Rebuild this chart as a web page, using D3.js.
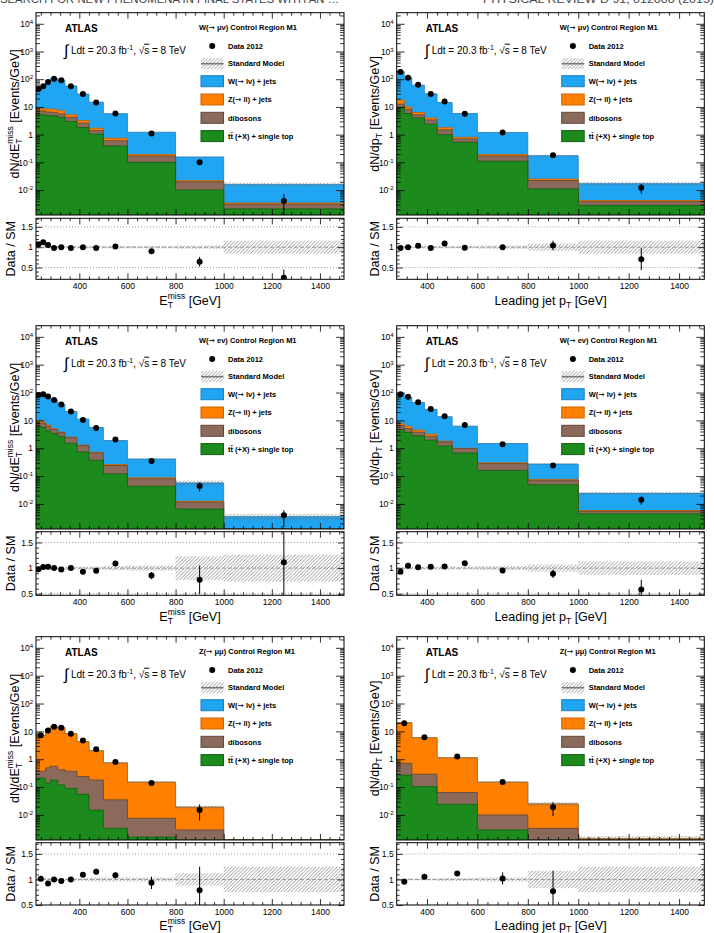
<!DOCTYPE html>
<html>
<head>
<meta charset="utf-8">
<script src="https://cdn.jsdelivr.net/npm/d3@7"></script>
<style>
  body { margin: 0; background: #fff; }
  svg text { font-family: "Liberation Sans", Arial, Helvetica, sans-serif; }
</style>
</head>
<body>
<svg id="fig" width="714" height="933"></svg>
<script>
// ---- data ----
// W(-> mu nu) control region, ETmiss
const wmuMetEdges = [220, 240, 260, 280, 310, 340, 390, 440, 500, 600, 800, 1000, 1500];
const wmuMetData = [44, 56, 80, 103, 92, 56, 29, 14.5, 5.8, 1.1, 0.1, 0.004];
const wmuMetW = [32.6, 41.4, 67.6, 96.7, 84.7, 51.8, 25.8, 13.1, 4.96, 1.03, 0.134, 0.0126];
const wmuMetZ = [1.4, 1.4, 1.8, 1.9, 1.7, 1.0, 0.6, 0.3, 0.14, 0.02, 0.002, 0.0003];
const wmuMetDib = [1.5, 2.0, 1.8, 1.6, 1.4, 1.2, 0.8, 0.35, 0.21, 0.07, 0.01, 0.001];
const wmuMetTop = [5.5, 5.2, 4.8, 4.8, 4.2, 3.0, 1.8, 1.05, 0.39, 0.1, 0.01, 0.0021];
const wmuMetSyst = [0.03, 0.03, 0.03, 0.03, 0.03, 0.03, 0.03, 0.03, 0.03, 0.03, 0.04, 0.16];
const wmuMetErrUp = [0.02, 0.02, 0.02, 0.02, 0.02, 0.02, 0.02, 0.03, 0.04, 0.05, 0.12, 0.2];
const wmuMetErrDn = [0.02, 0.02, 0.02, 0.02, 0.02, 0.02, 0.02, 0.03, 0.04, 0.05, 0.12, 0.27];

// W(-> mu nu) control region, leading jet pT
const wmuPtEdges = [280, 310, 340, 390, 440, 500, 600, 800, 1000, 1500];
const wmuPtData = [183, 114, 63, 29, 15.7, 5.7, 1.2, 0.18, 0.012];
const wmuPtW = [169.4, 104, 54.7, 25.6, 12.6, 5.0, 1.01, 0.148, 0.0128];
const wmuPtZ = [5.0, 1.7, 1.1, 0.6, 0.3, 0.1, 0.02, 0.003, 0.0004];
const wmuPtDib = [3.0, 2.5, 1.2, 1.0, 0.5, 0.17, 0.06, 0.011, 0.001];
const wmuPtTop = [9.6, 5.8, 4.0, 2.4, 1.0, 0.53, 0.11, 0.011, 0.0028];
const wmuPtSyst = [0.03, 0.03, 0.03, 0.03, 0.03, 0.03, 0.04, 0.09, 0.16];
const wmuPtErrUp = [0.02, 0.02, 0.02, 0.03, 0.03, 0.04, 0.06, 0.12, 0.27];
const wmuPtErrDn = [0.02, 0.02, 0.02, 0.03, 0.03, 0.04, 0.06, 0.12, 0.27];

// W(-> e nu) control region, ETmiss
const welMetEdges = [220, 240, 260, 280, 310, 340, 390, 440, 500, 600, 800, 1000, 1500];
const welMetData = [82, 87, 72, 54, 37, 21, 10.3, 5.3, 2.06, 0.35, 0.044, 0.0039];
const welMetW = [74.3, 76.1, 63.2, 48.9, 34.2, 18.5, 9.8, 4.88, 1.63, 0.323, 0.0445, 0.0025];
const welMetZ = [1.5, 1.1, 0.6, 0.4, 0.2, 0.1, 0.05, 0.04, 0.02, 0.007, 0.001, 0.0002];
const welMetDib = [2.0, 2.2, 2.0, 1.3, 1.0, 0.9, 0.51, 0.31, 0.12, 0.037, 0.0049, 0.0003];
const welMetTop = [6.2, 5.6, 4.2, 3.4, 2.6, 1.5, 0.74, 0.37, 0.12, 0.043, 0.0066, 0.0005];
const welMetSyst = [0.03, 0.03, 0.03, 0.03, 0.03, 0.03, 0.03, 0.03, 0.04, 0.05, 0.23, 0.26];
const welMetErrUp = [0.02, 0.02, 0.02, 0.02, 0.02, 0.02, 0.03, 0.03, 0.05, 0.07, 0.28, 0.6];
const welMetErrDn = [0.02, 0.02, 0.02, 0.02, 0.02, 0.02, 0.03, 0.03, 0.05, 0.07, 0.28, 0.7];

// W(-> e nu) control region, leading jet pT
const welPtEdges = [280, 310, 340, 390, 440, 500, 600, 800, 1000, 1500];
const welPtData = [87, 70, 44.7, 25.6, 14, 6.8, 1.4, 0.24, 0.014];
const welPtW = [85.7, 60.8, 39.5, 21.7, 11.8, 5.2, 1.17, 0.194, 0.0182];
const welPtZ = [1.2, 1.1, 0.7, 0.5, 0.1, 0.03, 0.02, 0.006, 0.0004];
const welPtDib = [1.9, 1.4, 1.0, 0.75, 0.5, 0.29, 0.12, 0.021, 0.001];
const welPtTop = [4.7, 3.7, 2.8, 1.95, 1.2, 0.68, 0.16, 0.049, 0.0044];
const welPtSyst = [0.03, 0.03, 0.03, 0.03, 0.03, 0.03, 0.04, 0.07, 0.13];
const welPtErrUp = [0.02, 0.02, 0.02, 0.03, 0.03, 0.04, 0.05, 0.08, 0.19];
const welPtErrDn = [0.02, 0.02, 0.02, 0.03, 0.03, 0.04, 0.05, 0.08, 0.19];

// Z(-> mu mu) control region, ETmiss
const zmuMetEdges = [220, 260, 280, 310, 340, 390, 440, 500, 600, 800, 1000, 1500];
const zmuMetData = [7.2, 10.8, 14.8, 13.5, 8.2, 4.7, 2.3, 0.8, 0.14, 0.015, null];
const zmuMetW = [0, 0, 0, 0, 0, 0, 0, 0, 0, 0, 0];
const zmuMetZ = [6.73, 11.21, 14.24, 13.48, 7.83, 4.06, 1.82, 0.705, 0.1424, 0.0161, 0.0002];
const zmuMetDib = [0.16, 0.35, 0.38, 0.30, 0.28, 0.185, 0.165, 0.0317, 0.006, 0.0025, 0.0002];
const zmuMetTop = [0.21, 0.14, 0.18, 0.12, 0.09, 0.055, 0.015, 0.0033, 0.0016, 0.0004, 0.0001];
const zmuMetSyst = [0.04, 0.03, 0.03, 0.03, 0.03, 0.03, 0.04, 0.04, 0.04, 0.12, 0.25];
const zmuMetErrUp = [0.04, 0.03, 0.03, 0.03, 0.04, 0.04, 0.06, 0.06, 0.12, 0.46, 0];
const zmuMetErrDn = [0.04, 0.03, 0.03, 0.03, 0.04, 0.04, 0.06, 0.06, 0.12, 0.46, 0];

// Z(-> mu mu) control region, leading jet pT
const zmuPtEdges = [280, 340, 440, 600, 800, 1000, 1500];
const zmuPtData = [19.6, 6.2, 1.25, 0.153, 0.019, null];
const zmuPtW = [0, 0, 0, 0, 0, 0];
const zmuPtZ = [19.78, 5.61, 1.056, 0.14, 0.0214, 0.0005];
const zmuPtDib = [0.45, 0.186, 0.04, 0.0071, 0.0029, 0.0008];
const zmuPtTop = [0.27, 0.104, 0.024, 0.0029, 0.0004, 0.0001];
const zmuPtSyst = [0.02, 0.02, 0.03, 0.04, 0.17, 0.25];
const zmuPtErrUp = [0.02, 0.025, 0.04, 0.12, 0.4, 0];
const zmuPtErrDn = [0.02, 0.025, 0.04, 0.12, 0.4, 0];

const logMajors = [1e-2, 1e-1, 1, 10, 100, 1e3, 1e4];
const ratioMajors = [0.5, 1, 1.5];
const xMajors = [400, 600, 800, 1000, 1200, 1400];
const legendLabels = ["W(→ lν) + jets", "Z(→ ll) + jets", "dibosons", "tt\u0304 (+X) + single top"];

// ---- layout ----
const cols = [{ x0: 36, x1: 344 }, { x0: 396.7, x1: 704.3 }];
const rows = [
  { mainTop: 12.7, mainBot: 215, ratTop: 218.3, ratBot: 279.3, ratDom: [0.21, 1.71], titleOff: 26 },
  { mainTop: 325.7, mainBot: 529, ratTop: 531.7, ratBot: 595.3, ratDom: [0.47, 1.71], titleOff: 26 },
  { mainTop: 636.7, mainBot: 840, ratTop: 842.7, ratBot: 905, ratDom: [0.5, 1.72], titleOff: 24.5 }
];
const logDomain = [Math.pow(10, -2.9), Math.pow(10, 4.4)];
const xDomains = { met: [220, 1500], pt: [280, 1500] };
const colors = {
  w: { fill: "#1fa5f2", stroke: "#1b7fc0" },
  z: { fill: "#ff8000", stroke: "#c86400" },
  dib: { fill: "#8b6a5b", stroke: "#5f4639" },
  top: { fill: "#1d8a1d", stroke: "#136013" }
};

const panels = [
  { col: 0, row: 0, xvar: "met", region: "W(→ μν)", edges: wmuMetEdges, data: wmuMetData, w: wmuMetW, z: wmuMetZ, dib: wmuMetDib, top: wmuMetTop, syst: wmuMetSyst, errUp: wmuMetErrUp, errDn: wmuMetErrDn },
  { col: 1, row: 0, xvar: "pt", region: "W(→ μν)", edges: wmuPtEdges, data: wmuPtData, w: wmuPtW, z: wmuPtZ, dib: wmuPtDib, top: wmuPtTop, syst: wmuPtSyst, errUp: wmuPtErrUp, errDn: wmuPtErrDn },
  { col: 0, row: 1, xvar: "met", region: "W(→ eν)", edges: welMetEdges, data: welMetData, w: welMetW, z: welMetZ, dib: welMetDib, top: welMetTop, syst: welMetSyst, errUp: welMetErrUp, errDn: welMetErrDn },
  { col: 1, row: 1, xvar: "pt", region: "W(→ eν)", edges: welPtEdges, data: welPtData, w: welPtW, z: welPtZ, dib: welPtDib, top: welPtTop, syst: welPtSyst, errUp: welPtErrUp, errDn: welPtErrDn },
  { col: 0, row: 2, xvar: "met", region: "Z(→ μμ)", edges: zmuMetEdges, data: zmuMetData, w: zmuMetW, z: zmuMetZ, dib: zmuMetDib, top: zmuMetTop, syst: zmuMetSyst, errUp: zmuMetErrUp, errDn: zmuMetErrDn },
  { col: 1, row: 2, xvar: "pt", region: "Z(→ μμ)", edges: zmuPtEdges, data: zmuPtData, w: zmuPtW, z: zmuPtZ, dib: zmuPtDib, top: zmuPtTop, syst: zmuPtSyst, errUp: zmuPtErrUp, errDn: zmuPtErrDn }
];

const svg = d3.select("#fig");
const defs = svg.append("defs");

// diagonal hatching for the SM uncertainty
const hatch = defs.append("pattern")
  .attr("id", "hatch")
  .attr("patternUnits", "userSpaceOnUse")
  .attr("width", 3.5)
  .attr("height", 3.5);
hatch.append("path")
  .attr("d", "M-1,1 l2,-2 M0,3.5 l3.5,-3.5 M2.5,4.5 l2,-2")
  .attr("stroke", "#6e6e6e")
  .attr("stroke-width", 0.7);

// cut-off running header of the page
svg.append("text")
  .attr("x", 0).attr("y", 3)
  .attr("font-family", "Liberation Serif")
  .attr("font-size", 10)
  .attr("textLength", 339).attr("lengthAdjust", "spacingAndGlyphs")
  .attr("fill", "#444")
  .text("SEARCH FOR NEW PHENOMENA IN FINAL STATES WITH AN …");
svg.append("text")
  .attr("x", 483).attr("y", 3)
  .attr("font-family", "Liberation Serif")
  .attr("font-size", 10)
  .attr("textLength", 231).attr("lengthAdjust", "spacingAndGlyphs")
  .attr("fill", "#444")
  .text("PHYSICAL REVIEW D 91, 012008 (2015)");

// writes a label, putting the arrow in a font that has the glyph
function arrowText(t, s) {
  s.split("→").forEach((part, i) => {
    if (i > 0) t.append("tspan").attr("font-family", "DejaVu Sans").attr("font-weight", "normal").text("→");
    t.append("tspan").text(part);
  });
}

function logLabel(sel) {
  sel.each(function (d) {
    const e = Math.round(Math.log10(d));
    const t = d3.select(this).text(null);
    if (e === 0) t.text("1");
    else if (e === 1) t.text("10");
    else {
      t.append("tspan").text("10");
      t.append("tspan").attr("dy", "-0.5em").attr("font-size", "6px").text(e);
    }
  });
}

function styleAxis(g) {
  g.select(".domain").remove();
  g.selectAll(".tick line").attr("stroke", "#000").attr("stroke-width", 0.8);
  g.attr("font-family", null).attr("font-size", 8.5);
}

function drawPanel(p, k) {
  const c = cols[p.col], r = rows[p.row];
  const n = p.edges.length - 1;
  const x = d3.scaleLinear().domain(xDomains[p.xvar]).range([c.x0, c.x1]);
  const y = d3.scaleLog().domain(logDomain).range([r.mainBot, r.mainTop]).clamp(true);
  const yr = d3.scaleLinear().domain(r.ratDom).range([r.ratBot, r.ratTop]);
  const g = svg.append("g");

  defs.append("clipPath").attr("id", "cm" + k).append("rect")
    .attr("x", c.x0).attr("y", r.mainTop).attr("width", c.x1 - c.x0).attr("height", r.mainBot - r.mainTop);
  defs.append("clipPath").attr("id", "cr" + k).append("rect")
    .attr("x", c.x0).attr("y", r.ratTop).attr("width", c.x1 - c.x0).attr("height", r.ratBot - r.ratTop);

  // stacked backgrounds, bottom to top
  const layers = [
    { vals: p.top, col: colors.top },
    { vals: p.dib, col: colors.dib },
    { vals: p.z, col: colors.z },
    { vals: p.w, col: colors.w }
  ];
  let cum = new Array(n).fill(0);
  layers.forEach(l => {
    cum = cum.map((v, i) => v + l.vals[i]);
    l.cum = cum.slice();
  });
  const total = cum;

  const steps = vals => d3.range(n).flatMap(i => {
    const yy = y(Math.max(vals[i], 1e-9));
    return [[x(p.edges[i]), yy], [x(p.edges[i + 1]), yy]];
  });
  const area = d3.area().x(d => d[0]).y0(r.mainBot).y1(d => d[1]);
  const line = d3.line().x(d => d[0]).y(d => d[1]);

  const main = g.append("g").attr("clip-path", `url(#cm${k})`);
  layers.slice().reverse().forEach(l => {
    const pts = steps(l.cum);
    main.append("path").attr("d", area(pts)).attr("fill", l.col.fill);
    main.append("path").attr("d", line(pts)).attr("fill", "none")
      .attr("stroke", l.col.stroke).attr("stroke-width", 0.8);
  });

  // SM uncertainty band
  main.selectAll(".band")
    .data(d3.range(n).filter(i => total[i] > 0))
    .enter().append("rect")
    .attr("x", i => x(p.edges[i]))
    .attr("width", i => x(p.edges[i + 1]) - x(p.edges[i]))
    .attr("y", i => y(total[i] * (1 + p.syst[i])))
    .attr("height", i => y(total[i] * (1 - p.syst[i])) - y(total[i] * (1 + p.syst[i])))
    .attr("fill", "url(#hatch)");

  const pts = d3.range(n).filter(i => p.data[i] != null);
  const centre = i => x((p.edges[i] + p.edges[i + 1]) / 2);

  main.selectAll(".err")
    .data(pts).enter().append("line")
    .attr("x1", centre).attr("x2", centre)
    .attr("y1", i => y(p.data[i] + p.errUp[i] * total[i]))
    .attr("y2", i => {
      const lo = p.data[i] - p.errDn[i] * total[i];
      return lo > 0 ? y(lo) : r.mainBot;
    })
    .attr("stroke", "#000").attr("stroke-width", 1);
  main.selectAll(".pt")
    .data(pts).enter().append("circle")
    .attr("cx", centre).attr("cy", i => y(p.data[i]))
    .attr("r", 3).attr("fill", "#000");

  // ratio panel
  const rat = g.append("g").attr("clip-path", `url(#cr${k})`);
  rat.selectAll(".rband")
    .data(d3.range(n)).enter().append("rect")
    .attr("x", i => x(p.edges[i]))
    .attr("width", i => x(p.edges[i + 1]) - x(p.edges[i]))
    .attr("y", i => yr(1 + p.syst[i]))
    .attr("height", i => yr(1 - p.syst[i]) - yr(1 + p.syst[i]))
    .attr("fill", "url(#hatch)");
  [0.5, 1.5].forEach(v => {
    rat.append("line").attr("x1", c.x0).attr("x2", c.x1).attr("y1", yr(v)).attr("y2", yr(v))
      .attr("stroke", "#888").attr("stroke-width", 0.8).attr("stroke-dasharray", "1,2");
  });
  rat.append("line").attr("x1", c.x0).attr("x2", c.x1).attr("y1", yr(1)).attr("y2", yr(1))
    .attr("stroke", "#888").attr("stroke-width", 0.8).attr("stroke-dasharray", "4,2");
  rat.selectAll(".rerr")
    .data(pts).enter().append("line")
    .attr("x1", centre).attr("x2", centre)
    .attr("y1", i => yr(p.data[i] / total[i] + p.errUp[i]))
    .attr("y2", i => yr(p.data[i] / total[i] - p.errDn[i]))
    .attr("stroke", "#000").attr("stroke-width", 1);
  rat.selectAll(".rpt")
    .data(pts).enter().append("circle")
    .attr("cx", centre).attr("cy", i => yr(p.data[i] / total[i]))
    .attr("r", 3).attr("fill", "#000");

  // axes
  const xd = xDomains[p.xvar];
  const xMinors = d3.range(240, 1500, 40).filter(v => v % 200 !== 0 && v > xd[0]);
  const logMinors = [];
  for (let e = -3; e <= 4; e++) for (let m = 2; m <= 9; m++) {
    const v = m * Math.pow(10, e);
    if (v > logDomain[0] && v < logDomain[1]) logMinors.push(v);
  }
  const rMinors = d3.range(2, 18).map(v => v / 10)
    .filter(v => v > r.ratDom[0] && v < r.ratDom[1] && ratioMajors.indexOf(v) < 0);
  const rMajors = ratioMajors.filter(v => v >= r.ratDom[0] && v <= r.ratDom[1]);

  g.append("g").attr("transform", `translate(${c.x0},0)`)
    .call(d3.axisLeft(y).tickValues(logMajors).tickSize(-8).tickPadding(3))
    .call(styleAxis)
    .call(a => a.selectAll("text").call(logLabel));
  g.append("g").attr("transform", `translate(${c.x0},0)`)
    .call(d3.axisLeft(y).tickValues(logMinors).tickSize(-4).tickFormat(""))
    .call(styleAxis);
  g.append("g").attr("transform", `translate(${c.x1},0)`)
    .call(d3.axisRight(y).tickValues(logMajors).tickSize(-8).tickFormat(""))
    .call(styleAxis);
  g.append("g").attr("transform", `translate(${c.x1},0)`)
    .call(d3.axisRight(y).tickValues(logMinors).tickSize(-4).tickFormat(""))
    .call(styleAxis);

  g.append("g").attr("transform", `translate(${c.x0},0)`)
    .call(d3.axisLeft(yr).tickValues(rMajors).tickSize(-6).tickPadding(3)
      .tickFormat(v => v === 1 ? "1" : d3.format(".1f")(v)))
    .call(styleAxis);
  g.append("g").attr("transform", `translate(${c.x0},0)`)
    .call(d3.axisLeft(yr).tickValues(rMinors).tickSize(-3).tickFormat(""))
    .call(styleAxis);
  g.append("g").attr("transform", `translate(${c.x1},0)`)
    .call(d3.axisRight(yr).tickValues(rMajors).tickSize(-6).tickFormat(""))
    .call(styleAxis);
  g.append("g").attr("transform", `translate(${c.x1},0)`)
    .call(d3.axisRight(yr).tickValues(rMinors).tickSize(-3).tickFormat(""))
    .call(styleAxis);

  [[r.mainBot, d3.axisBottom], [r.mainTop, d3.axisTop], [r.ratTop, d3.axisTop]].forEach(([yy, ax]) => {
    g.append("g").attr("transform", `translate(0,${yy})`)
      .call(ax(x).tickValues(xMajors).tickSize(-6).tickFormat("")).call(styleAxis);
    g.append("g").attr("transform", `translate(0,${yy})`)
      .call(ax(x).tickValues(xMinors).tickSize(-3).tickFormat("")).call(styleAxis);
  });
  g.append("g").attr("transform", `translate(0,${r.ratBot})`)
    .call(d3.axisBottom(x).tickValues(xMajors).tickSize(-6).tickPadding(4).tickFormat(d3.format("d")))
    .call(styleAxis);
  g.append("g").attr("transform", `translate(0,${r.ratBot})`)
    .call(d3.axisBottom(x).tickValues(xMinors).tickSize(-3).tickFormat("")).call(styleAxis);

  // frames
  g.append("rect").attr("x", c.x0).attr("y", r.mainTop)
    .attr("width", c.x1 - c.x0).attr("height", r.mainBot - r.mainTop)
    .attr("fill", "none").attr("stroke", "#000").attr("stroke-width", 1);
  g.append("rect").attr("x", c.x0).attr("y", r.ratTop)
    .attr("width", c.x1 - c.x0).attr("height", r.ratBot - r.ratTop)
    .attr("fill", "none").attr("stroke", "#000").attr("stroke-width", 1);

  // axis titles
  const xt = g.append("text")
    .attr("x", (c.x0 + c.x1) / 2).attr("y", r.ratBot + r.titleOff)
    .attr("text-anchor", "middle").attr("font-size", 12.5);
  if (p.xvar === "met") {
    xt.append("tspan").text("E");
    xt.append("tspan").attr("font-size", 8.5).attr("dy", 2.5).text("T");
    xt.append("tspan").attr("font-size", 8.5).attr("dx", -5.2).attr("dy", -8.5).text("miss");
    xt.append("tspan").attr("dy", 6).text(" [GeV]");
  } else {
    xt.append("tspan").text("Leading jet p");
    xt.append("tspan").attr("font-size", 8.5).attr("dy", 2.5).text("T");
    xt.append("tspan").attr("dy", -2.5).text(" [GeV]");
  }

  const ytOff = p.col === 0 ? 17 : 18;
  const yt = g.append("text")
    .attr("transform", `translate(${c.x0 - ytOff},${(r.mainTop + r.mainBot) / 2}) rotate(-90)`)
    .attr("text-anchor", "middle").attr("font-size", 12.5);
  if (p.xvar === "met") {
    yt.append("tspan").text("dN/dE");
    yt.append("tspan").attr("font-size", 8.5).attr("dy", 3).text("T");
    yt.append("tspan").attr("font-size", 8.5).attr("dx", -5.2).attr("dy", -9).text("miss");
    yt.append("tspan").attr("dy", 6).text(" [Events/GeV]");
  } else {
    yt.append("tspan").text("dN/dp");
    yt.append("tspan").attr("font-size", 8.5).attr("dy", 3).text("T");
    yt.append("tspan").attr("dy", -3).text(" [Events/GeV]");
  }
  const rtOff = p.col === 0 ? 21 : 18;
  g.append("text")
    .attr("transform", `translate(${c.x0 - rtOff},${(r.ratTop + r.ratBot) / 2}) rotate(-90)`)
    .attr("text-anchor", "middle").attr("font-size", 12.5)
    .text("Data / SM");

  // ATLAS label and luminosity
  g.append("text").attr("x", c.x0 + 29).attr("y", r.mainTop + 19.3)
    .attr("font-size", 10).attr("font-weight", "bold").text("ATLAS");
  g.append("text").attr("x", c.x0 + 28).attr("y", r.mainTop + 43)
    .attr("font-size", 16).text("∫");
  const lumi = g.append("text").attr("x", c.x0 + 35).attr("y", r.mainTop + 41)
    .attr("font-size", 10);
  lumi.append("tspan").text("Ldt = 20.3 fb");
  lumi.append("tspan").attr("font-size", 7).attr("dy", -4).text("-1");
  lumi.append("tspan").attr("dy", 4).text(", √");
  lumi.append("tspan").style("text-decoration", "overline").text("s");
  lumi.append("tspan").text(" = 8 TeV");

  // legend
  const lx = c.x0 + 165, ly = r.mainTop;
  g.append("text").attr("x", c.x0 + 163).attr("y", ly + 17.7)
    .attr("font-size", 7.5).attr("font-weight", "bold")
    .call(t => arrowText(t, p.region + " Control Region M1"));
  g.append("circle").attr("cx", lx + 11.2).attr("cy", ly + 33.3).attr("r", 3).attr("fill", "#000");
  const entryText = (yy, s) => g.append("text").attr("x", c.x0 + 192).attr("y", yy + 2.7)
    .attr("font-size", 7.5).attr("font-weight", "bold").call(t => arrowText(t, s));
  entryText(ly + 33.3, "Data 2012");
  g.append("rect").attr("x", lx).attr("y", ly + 51 - 5.5).attr("width", 22.5).attr("height", 11)
    .attr("fill", "url(#hatch)");
  g.append("line").attr("x1", lx).attr("x2", lx + 22.5).attr("y1", ly + 51).attr("y2", ly + 51)
    .attr("stroke", "#777").attr("stroke-width", 1.6);
  entryText(ly + 51, "Standard Model");
  const legCols = [colors.w, colors.z, colors.dib, colors.top];
  legendLabels.forEach((s, i) => {
    const yy = ly + 68.5 + i * 18.3;
    g.append("rect").attr("x", lx).attr("y", yy - 5.5).attr("width", 22.5).attr("height", 11)
      .attr("fill", legCols[i].fill).attr("stroke", legCols[i].stroke).attr("stroke-width", 1);
    entryText(yy, s);
  });
}

panels.forEach(drawPanel);
</script>
</body>
</html>
